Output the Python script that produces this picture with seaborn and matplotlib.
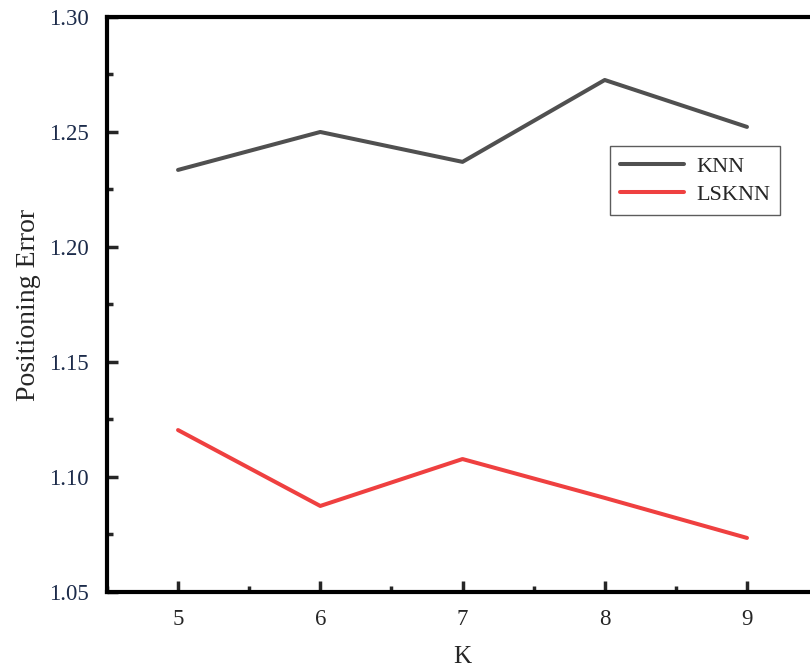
import matplotlib
matplotlib.use("Agg")
import matplotlib.pyplot as plt
import seaborn as sns
import pandas as pd
from matplotlib.ticker import AutoMinorLocator

k_values = [5, 6, 7, 8, 9]
knn_error = [1.2335, 1.2500, 1.2370, 1.2726, 1.2522]
lsknn_error = [1.1204, 1.0874, 1.1078, 1.0909, 1.0735]
series_names = ["KNN", "LSKNN"]
y_ticks = [1.05, 1.10, 1.15, 1.20, 1.25, 1.30]

df = pd.DataFrame({
    "K": k_values * 2,
    "Error": knn_error + lsknn_error,
    "Method": [series_names[0]] * len(k_values) + [series_names[1]] * len(k_values),
})

sns.set_style("white")
plt.rcParams["font.family"] = ["Liberation Serif", "DejaVu Serif"]

fig = plt.figure(figsize=(8.1, 6.68), dpi=100)
ax = fig.add_axes([0.132, 0.1138, 0.878, 0.8608])

sns.lineplot(data=df, x="K", y="Error", hue="Method",
             palette={"KNN": "#505050", "LSKNN": "#ef4040"},
             linewidth=2.9, ax=ax, legend=True)

ax.set_xlim(4.5, 9.5)
ax.set_ylim(1.05, 1.30)
ax.set_xticks(k_values)
ax.set_yticks(y_ticks)
ax.set_yticklabels([f"{v:.2f}" for v in y_ticks], color="#1c2b4a")
ax.xaxis.set_minor_locator(AutoMinorLocator(2))
ax.yaxis.set_minor_locator(AutoMinorLocator(2))
ax.tick_params(axis="both", which="major", direction="in", length=8, width=2.5,
               labelsize=16.5)
ax.tick_params(axis="y", which="major", pad=13)
ax.tick_params(axis="x", which="major", pad=12)
ax.tick_params(axis="both", which="minor", direction="in", length=4, width=2.5)
ax.tick_params(axis="both", which="both", left=True, bottom=True, right=False, top=False)

for side in ["left", "bottom", "top"]:
    ax.spines[side].set_linewidth(3)
    ax.spines[side].set_color("black")
ax.spines["right"].set_visible(False)

ax.set_xlabel("K", fontsize=18, labelpad=12)
ax.set_ylabel("Positioning Error", fontsize=20, labelpad=6)

leg = ax.legend(loc="upper left", bbox_to_anchor=(0.707, 0.775), fontsize=16,
                frameon=True, fancybox=False, edgecolor="#333333",
                handlelength=2.9, handletextpad=0.55, borderpad=0.45,
                labelspacing=0.35, borderaxespad=0)
leg.get_frame().set_linewidth(1.0)
leg.set_title(None)

fig.savefig("out.png", dpi=100)
